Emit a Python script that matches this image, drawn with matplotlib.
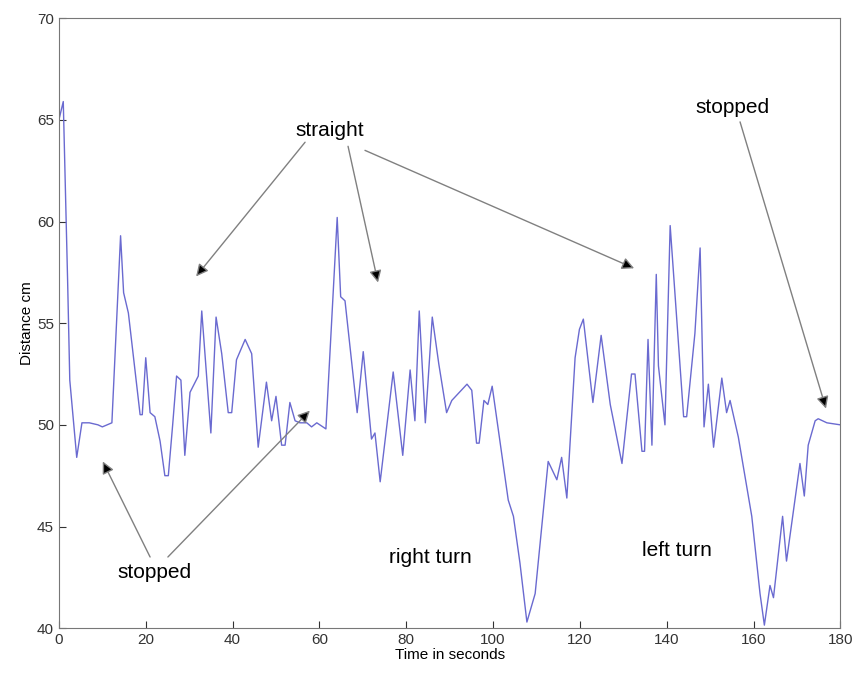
import numpy as np
import matplotlib
matplotlib.use("Agg")
import matplotlib.pyplot as plt

# distance readings (time in s, distance in cm)
temps = [0.0, 1.0, 2.0, 2.5, 4.1, 5.3, 7.0, 9.0, 10.0, 12.2,
         14.2, 14.9, 16.0, 18.7, 19.2, 20.0, 21.0, 22.1, 23.3, 24.4, 25.2,
         26.2, 27.1, 28.1, 29.0, 30.2, 32.1, 32.9, 35.0, 36.2, 37.5, 39.0, 39.8,
         40.9, 42.9, 44.4, 45.9, 47.8, 49.0, 50.0, 51.3, 52.1, 53.2, 54.4, 55.5,
         57.1, 58.2, 59.4, 61.5, 64.1, 64.9, 65.9, 68.7, 70.1, 72.0,
         72.8, 74.0, 77.0, 79.2, 80.9, 82.0, 83.0, 84.4, 86.0, 87.5, 89.3,
         90.5, 94.0, 95.1, 96.2, 96.8, 97.9, 98.8, 99.8, 103.5, 104.7,
         106.2, 107.8, 109.7, 112.7, 114.7, 115.8, 117.0, 118.9, 119.9, 120.8, 123.0,
         124.9, 127.0, 129.7, 131.9, 132.7, 134.3, 134.9, 135.7, 136.6, 137.6, 138.1,
         139.6, 140.8, 143.9, 144.6, 146.5, 147.7, 148.6, 149.6, 150.8, 152.7,
         153.8, 154.6, 156.5, 159.6, 161.5, 162.5, 163.8, 164.6, 166.7, 167.6,
         170.7, 171.7, 172.6, 174.2, 174.9, 176.9, 180.0]
distance = [65.0, 65.9, 57.1, 52.2, 48.4, 50.1, 50.1, 50.0, 49.9, 50.1,
            59.3, 56.5, 55.5, 50.5, 50.5, 53.3, 50.6, 50.4, 49.2, 47.5, 47.5,
            50.0, 52.4, 52.2, 48.5, 51.6, 52.4, 55.6, 49.6, 55.3, 53.5, 50.6, 50.6,
            53.2, 54.2, 53.5, 48.9, 52.1, 50.2, 51.4, 49.0, 49.0, 51.1, 50.2, 50.1,
            50.1, 49.9, 50.1, 49.8, 60.2, 56.3, 56.1, 50.6, 53.6, 49.3,
            49.6, 47.2, 52.6, 48.5, 52.7, 50.2, 55.6, 50.1, 55.3, 53.0, 50.6,
            51.2, 52.0, 51.7, 49.1, 49.1, 51.2, 51.0, 51.9, 46.3, 45.5,
            43.2, 40.3, 41.7, 48.2, 47.3, 48.4, 46.4, 53.3, 54.7, 55.2, 51.1,
            54.4, 51.0, 48.1, 52.5, 52.5, 48.7, 48.7, 54.2, 49.0, 57.4, 52.9,
            50.0, 59.8, 50.4, 50.4, 54.5, 58.7, 49.9, 52.0, 48.9, 52.3,
            50.6, 51.2, 49.4, 45.5, 41.7, 40.15, 42.1, 41.5, 45.5, 43.3,
            48.1, 46.5, 49.0, 50.2, 50.3, 50.1, 50.0]

xticks = list(range(0, 181, 20))
yticks = list(range(40, 71, 5))

plt.rcParams['font.family'] = ['Liberation Sans', 'DejaVu Sans']

fig = plt.figure(figsize=(8.54, 6.74), dpi=100)
ax = fig.add_axes([0.069, 0.068, 0.915, 0.905])
ax.plot(temps, distance, color="#6a6ad0", linewidth=1.0)

ax.set_xlim(0, 180)
ax.set_ylim(40, 70)
ax.set_xticks(xticks)
ax.set_yticks(yticks)
ax.tick_params(direction="in", length=5, labelsize=11, colors="#333333")
for s in ax.spines.values():
    s.set_color("#777777")
ax.set_xlabel("Time in seconds", fontsize=11, labelpad=1)
ax.set_ylabel("Distance cm", fontsize=11, labelpad=2)

fleche = dict(arrowstyle="-|>", color="#808080", lw=1.0, mutation_scale=18,
              shrinkA=0, shrinkB=0)

def annoter(txt, tx, ty, cibles, queues):
    ax.text(tx, ty, txt, fontsize=15, ha="center", va="center", color="black")
    for (hx, hy), (qx, qy) in zip(cibles, queues):
        a = ax.annotate("", xy=(hx, hy), xytext=(qx, qy), arrowprops=fleche)
        a.arrow_patch.set_facecolor("black")

annoter("straight", 62.4, 64.5,
        [(31.6, 57.3), (73.5, 57.0), (132.5, 57.7)],
        [(56.7, 63.9), (66.6, 63.7), (70.5, 63.5)])
annoter("stopped", 22.1, 42.75,
        [(10.1, 48.2), (57.8, 50.7)],
        [(21.0, 43.5), (25.1, 43.5)])
annoter("stopped", 155.1, 65.6,
        [(176.7, 50.8)],
        [(156.9, 64.9)])
ax.text(85.5, 43.5, "right turn", fontsize=15, ha="center", va="center")
ax.text(142.4, 43.8, "left turn", fontsize=15, ha="center", va="center")

fig.savefig("out.png", dpi=100)
